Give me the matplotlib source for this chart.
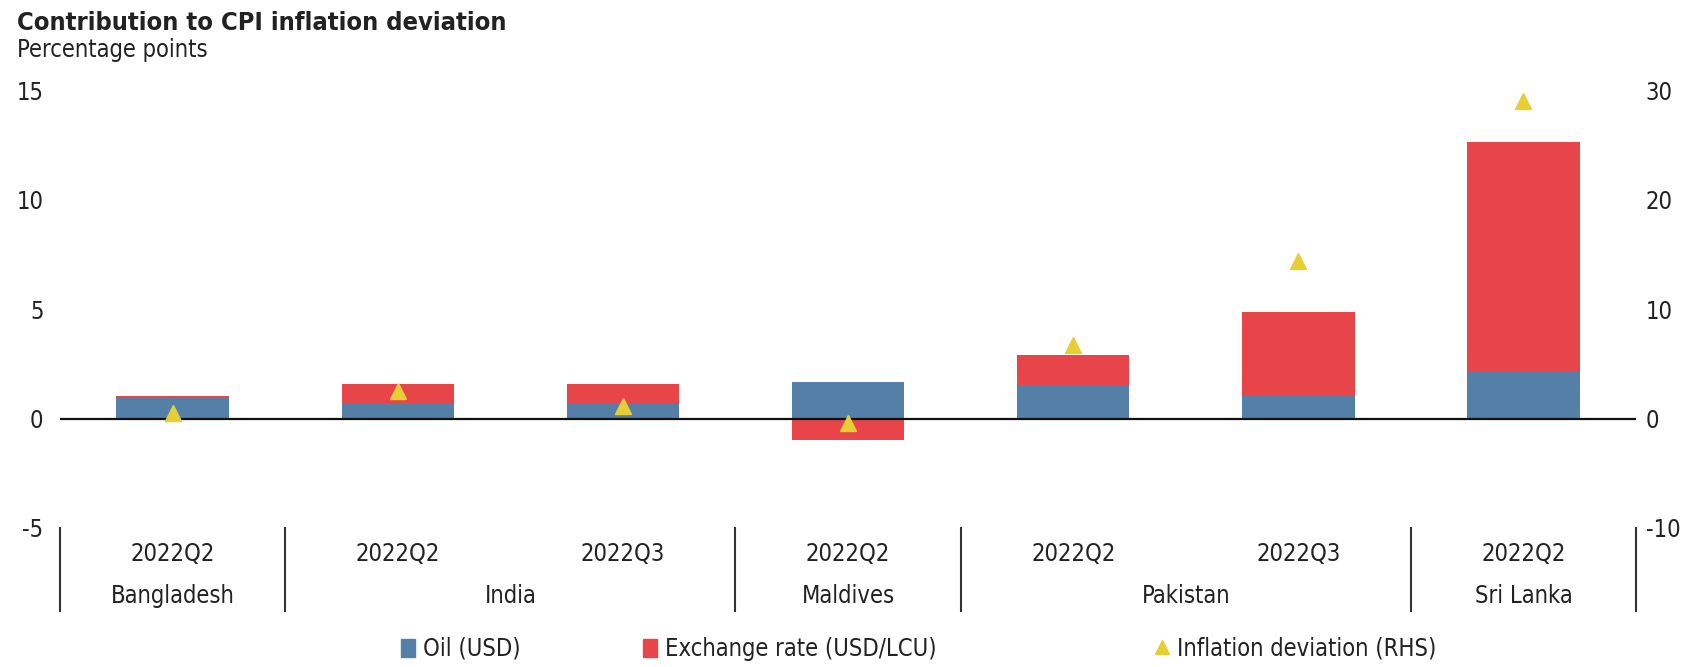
import numpy as np
import matplotlib.pyplot as plt
from matplotlib.lines import Line2D
from matplotlib.patches import Patch
import matplotlib.transforms as mtransforms

plt.rcParams['font.family'] = ['DejaVu Sans']
plt.rcParams['font.stretch'] = 'condensed'
plt.rcParams['axes.unicode_minus'] = False

# data
quarters = ['2022Q2', '2022Q2', '2022Q3', '2022Q2', '2022Q2', '2022Q3', '2022Q2']
countries = ['Bangladesh', 'India', 'Maldives', 'Pakistan', 'Sri Lanka']
country_size = [1, 2, 1, 2, 1]  # number of quarters per country
oil = np.array([0.95, 0.70, 0.70, 1.67, 1.52, 1.03, 2.13])
exch = np.array([0.09, 0.88, 0.88, -0.99, 1.40, 3.84, 10.52])
infl_dev = np.array([0.5, 2.5, 1.1, -0.45, 6.7, 14.4, 29.0])  # RHS

blue = '#5480a8'
red = '#e8454a'
yellow = '#e6cf35'
txt = '#222222'

fig = plt.figure(figsize=(16.83, 6.67), dpi=100)
ax = fig.add_axes([0.0357, 0.2084, 0.9364, 0.6566])
ax2 = ax.twinx()

x = np.arange(len(quarters))
ax.bar(x, oil, width=0.5, color=blue, zorder=2)
bottom = np.where(exch >= 0, oil, 0)
ax.bar(x, exch, width=0.5, bottom=bottom, color=red, zorder=2)
ax.axhline(0, color='#111111', lw=1.6, zorder=3)

ax2.plot(x, infl_dev, linestyle='none', marker='^', ms=12, color=yellow, zorder=4)

ax.set_xlim(-0.5, len(quarters) - 0.5)
ax.set_ylim(-5, 15)
ax.set_yticks([-5, 0, 5, 10, 15])
ax2.set_ylim(-10, 30)
ax2.set_yticks([-10, 0, 10, 20, 30])

for a in (ax, ax2):
    for s in a.spines.values():
        s.set_visible(False)
    a.tick_params(axis='both', length=0, labelsize=17, labelcolor=txt)
ax.tick_params(axis='y', pad=12)
ax2.tick_params(axis='y', pad=7)

# x labels: quarters then countries, with group separators
ax.set_xticks(x)
ax.set_xticklabels(quarters)
ax.tick_params(axis='x', pad=10)
trans = mtransforms.blended_transform_factory(ax.transData, ax.transAxes)
edges = np.concatenate([[0], np.cumsum(country_size)]) - 0.5
for e in edges:
    ax.plot([e, e], [0, -0.19], transform=trans, color='#333333', lw=1.5, clip_on=False)
for i, c in enumerate(countries):
    mid = (edges[i] + edges[i + 1]) / 2
    ax.text(mid, -0.155, c, transform=trans, ha='center', va='center', fontsize=17, color=txt)

fig.text(0.010, 0.965, 'Contribution to CPI inflation deviation', fontsize=18.3,
         fontweight='bold', color=txt, va='center')
fig.text(0.010, 0.925, 'Percentage points', fontsize=17, color=txt, va='center')

# legend
legend_items = [
    (Patch(color=blue), 'Oil (USD)', 0.231),
    (Patch(color=red), 'Exchange rate (USD/LCU)', 0.375),
    (Line2D([], [], linestyle='none', marker='^', ms=10, color=yellow), 'Inflation deviation (RHS)', 0.679),
]
for h, lab, xpos in legend_items:
    fig.legend([h], [lab], loc='center left', bbox_to_anchor=(xpos, 0.027), frameon=False,
               fontsize=17, handlelength=0.6, handleheight=0.8, handletextpad=0.35,
               borderpad=0, labelcolor=txt)

fig.savefig('out.png', dpi=100)
